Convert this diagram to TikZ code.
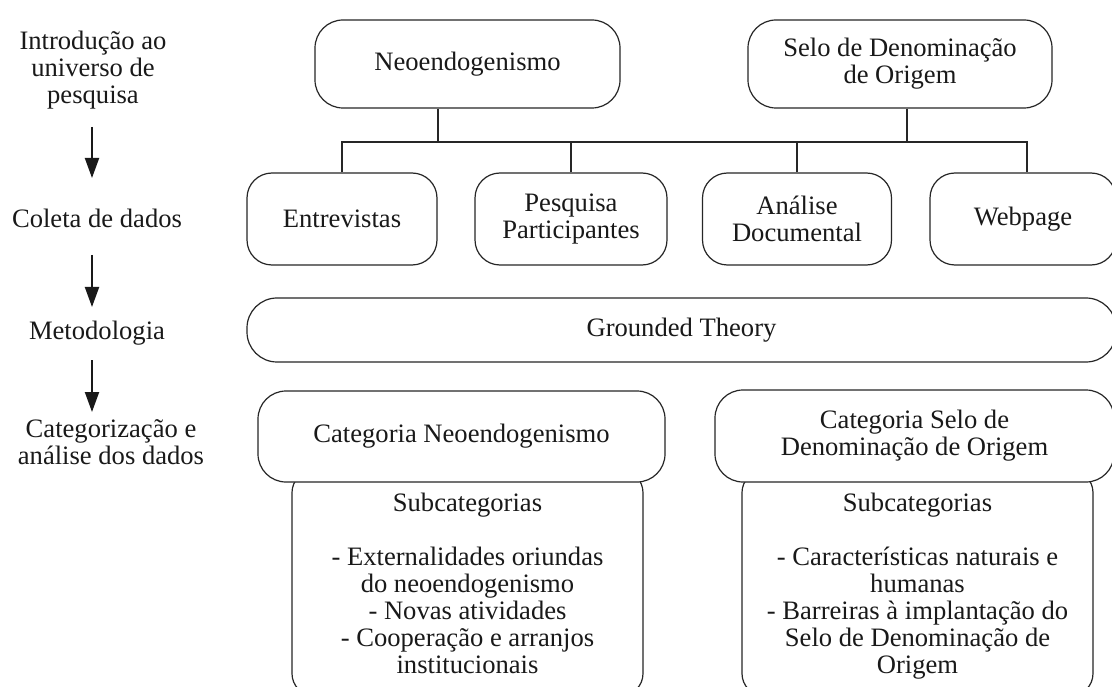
\documentclass[tikz,border=0pt]{standalone}
\usepackage{fontspec}
\setmainfont{Liberation Serif}
\usetikzlibrary{arrows.meta}
\begin{document}
\begin{tikzpicture}[x=1pt,y=-1pt,
  every node/.style={font=\fontsize{26.6}{27}\selectfont, align=center, inner sep=0pt, text=black!90},
  box/.style={draw=black!85, line width=1.2pt, rounded corners=28pt, fill=white},
  smallbox/.style={box, rounded corners=25pt, minimum height=92pt},
  subbox/.style={box, rounded corners=22pt, minimum width=351pt, minimum height=225pt, anchor=north},
  conn/.style={draw=black!85, line width=1.2pt},
  arr/.style={draw=black!90, line width=2pt, -{Triangle[length=20pt,width=14pt]}}]
\useasboundingbox (0,0) rectangle (1112,687);
\begin{scope}
\clip (0,0) rectangle (1112,687);
% top row
\node[box, minimum width=305pt, minimum height=88pt] (neo) at (467.5,64) {Neoendogenismo};
\node[box, minimum width=304pt, minimum height=88pt] (selo) at (900,64) {Selo de Denominação\\de Origem};
% second row
\node[smallbox, minimum width=190pt] (ent) at (342,219) {Entrevistas};
\node[smallbox, minimum width=192pt] (pp) at (571,219) {Pesquisa\\Participantes};
\node[smallbox, minimum width=189pt] (ad) at (797,219) {Análise\\Documental};
\node[smallbox, minimum width=186pt] (web) at (1023,219) {Webpage};
% connectors
\coordinate (jn) at (438,142);
\coordinate (js) at (907,142);
\coordinate (jw) at (1027,142);
\draw[conn] (neo.south -| jn) -- (jn);
\draw[conn] (selo.south -| js) -- (js);
\draw[conn] (ent.north) |- (jw) -- (web.north -| jw);
\draw[conn] (pp.north) -- (pp.north |- jn);
\draw[conn] (ad.north) -- (ad.north |- jn);
% grounded theory
\node[box, rounded corners=30pt, minimum width=869pt, minimum height=64pt] (gt) at (681.5,330) {Grounded Theory};
% subcategory boxes
\node[subbox] (subL) at (467.5,470) {};
\node[subbox] (subR) at (917.5,470) {};
\node[anchor=north] (subLt) at (467.5,493) {Subcategorias\\[27pt]- Externalidades oriundas\\do neoendogenismo\\- Novas atividades\\- Cooperação e arranjos\\institucionais};
\node[anchor=north] (subRt) at (917.5,493) {Subcategorias\\[27pt]- Características naturais e\\humanas\\- Barreiras à implantação do\\Selo de Denominação de\\Origem};
% category boxes
\node[box, minimum width=407pt, minimum height=91pt] (catL) at (461.5,436.5) {Categoria Neoendogenismo};
\node[box, minimum width=399pt, minimum height=92pt] (catR) at (914.5,436) {Categoria Selo de\\Denominação de Origem};
\end{scope}
% left column
\node (lintro) at (93,70) {Introdução ao\\universo de\\pesquisa};
\node (lcol) at (97,218) {Coleta de dados};
\node (lmet) at (97,333) {Metodologia};
\node (lcat) at (111,442) {Categorização e\\análise dos dados};
\coordinate (a1s) at (92,127); \coordinate (a1e) at (92,178);
\coordinate (a2s) at (92,255); \coordinate (a2e) at (92,307);
\coordinate (a3s) at (92,360); \coordinate (a3e) at (92,412);
\draw[arr] (a1s) -- (a1e);
\draw[arr] (a2s) -- (a2e);
\draw[arr] (a3s) -- (a3e);
\end{tikzpicture}
\end{document}
